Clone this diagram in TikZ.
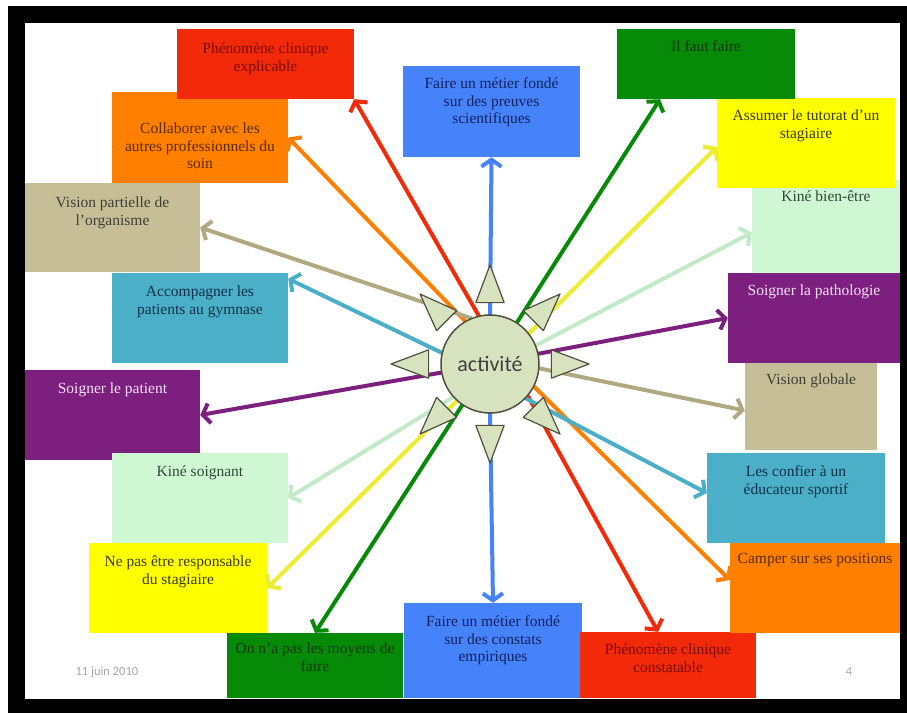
\documentclass[tikz,border=0pt]{standalone}
\usepackage{fontspec}
\setmainfont{Liberation Serif}
\newfontfamily\calibri{Carlito}
\usetikzlibrary{arrows.meta, positioning}

\definecolor{boxred}{HTML}{F22A0A}
\definecolor{boxorange}{HTML}{FF8000}
\definecolor{boxtan}{HTML}{C5BE97}
\definecolor{boxteal}{HTML}{4BAFC8}
\definecolor{boxpurple}{HTML}{7C1F7E}
\definecolor{boxmint}{HTML}{D0F7D4}
\definecolor{boxyellow}{HTML}{FFFF00}
\definecolor{boxgreen}{HTML}{078A07}
\definecolor{boxblue}{HTML}{4682FA}
\definecolor{txtred}{HTML}{7A0C00}
\definecolor{txtorange}{HTML}{5A2A00}
\definecolor{txttan}{HTML}{3F3F35}
\definecolor{txtteal}{HTML}{10304A}
\definecolor{txtpurple}{HTML}{F6E2F6}
\definecolor{txtmint}{HTML}{304838}
\definecolor{txtyellow}{HTML}{3A3A10}
\definecolor{txtgreen}{HTML}{0A3A0A}
\definecolor{txtblue}{HTML}{12225C}
\definecolor{arrmint}{HTML}{C2EAC8}
\definecolor{arryellow}{HTML}{ECEC30}
\definecolor{arrtan}{HTML}{B0A880}
\definecolor{actfill}{HTML}{D7E3BF}
\definecolor{actline}{HTML}{4F4F3F}

\begin{document}
\begin{tikzpicture}[
    x=1pt, y=-1pt,
    >={Straight Barb[length=7pt,width=20pt]},
    box/.style={rectangle, inner sep=0pt},
    box text/.style={align=center, inner sep=0pt, font=\fontsize{15.5}{17.5}\selectfont},
    link/.style={line width=4pt, ->},
    spike/.style={fill=actfill, draw=actline, line width=1.2pt, line join=round},
    footer/.style={font=\calibri\fontsize{12.5}{14}\selectfont, text=black!35}
]

% Frame of the slide
\fill[white] (0,0) rectangle (907,713);
\fill[black] (8,6) rectangle (907,713);
\fill[white] (25,23) rectangle (900,699);
\useasboundingbox (0,0) rectangle (907,713);

% Footer
\node[footer, anchor=west] (date) at (72,672) {11 juin 2010};
\node[footer] (page) at (849,671) {4};

% Boxes on the left
\node[box, fill=boxorange, minimum width=176pt, minimum height=91pt] (collab) at (200,137.5) {};
\node[box, fill=boxred, minimum width=177pt, minimum height=70pt] (explic) at (265.5,64) {};
\node[box, fill=boxtan, minimum width=175pt, minimum height=89pt] (partiel) at (112.5,227.5) {};
\node[box, fill=boxteal, minimum width=176pt, minimum height=90pt] (gymnase) at (200,318) {};
\node[box, fill=boxpurple, minimum width=175pt, minimum height=90pt] (patient) at (112.5,415) {};
\node[box, fill=boxmint, minimum width=176pt, minimum height=90pt] (soignant) at (200,498) {};
\node[box, fill=boxgreen, minimum width=176pt, minimum height=65pt] (moyens) at (315,665.5) {};
\node[box, fill=boxyellow, minimum width=178pt, minimum height=90pt] (nonresp) at (178,588) {};

% Boxes at the top and bottom
\node[box, fill=boxblue, minimum width=177pt, minimum height=91pt] (preuves) at (491.5,111.5) {};
\node[box, fill=boxblue, minimum width=178pt, minimum height=95pt] (constats) at (493,650.5) {};
\node[box, fill=boxred, minimum width=176pt, minimum height=66pt] (constat) at (668,665) {};

% Boxes on the right
\node[box, fill=boxmint, minimum width=148pt, minimum height=93pt] (bienetre) at (826,226.5) {};
\node[box, fill=boxyellow, minimum width=178pt, minimum height=90pt] (tutorat) at (806,143) {};
\node[box, fill=boxgreen, minimum width=178pt, minimum height=70pt] (fautfaire) at (706,64) {};
\node[box, fill=boxpurple, minimum width=172pt, minimum height=90pt] (patho) at (814,318) {};
\node[box, fill=boxtan, minimum width=132pt, minimum height=87pt] (globale) at (811,406.5) {};
\node[box, fill=boxteal, minimum width=178pt, minimum height=90pt] (educ) at (796,498) {};
\node[box, fill=boxorange, minimum width=170pt, minimum height=90pt] (camper) at (815,588) {};

% Texts of the boxes
\node[box text, text=txtred, below=14pt of explic.north] (explictxt) {Phénomène clinique\\explicable};
\node[box text, text=txtorange, below=31pt of collab.north] (collabtxt) {Collaborer avec les\\autres professionnels du\\soin};
\node[box text, text=txttan, below=14pt of partiel.north] (partieltxt) {Vision partielle de\\l'organisme};
\node[box text, text=txtteal, below=13pt of gymnase.north] (gymnasetxt) {Accompagner les\\patients au gymnase};
\node[box text, text=txtpurple, below=13pt of patient.north] (patienttxt) {Soigner le patient};
\node[box text, text=txtmint, below=13pt of soignant.north] (soignanttxt) {Kiné soignant};
\node[box text, text=txtyellow, below=13pt of nonresp.north] (nonresptxt) {Ne pas être responsable\\du stagiaire};
\node[box text, text=txtgreen, below=10pt of moyens.north] (moyenstxt) {On n'a pas les moyens de\\faire};
\node[box text, text=txtblue, below=13pt of constats.north] (constatstxt) {Faire un métier fondé\\sur des constats\\empiriques};
\node[box text, text=txtred, below=12pt of constat.north] (constattxt) {Phénomène clinique\\constatable};
\node[box text, text=txtorange, below=10pt of camper.north] (campertxt) {Camper sur ses positions};
\node[box text, text=txtteal, below=13pt of educ.north] (eductxt) {Les confier à un\\éducateur sportif};
\node[box text, text=txttan, below=11pt of globale.north] (globaletxt) {Vision globale};
\node[box text, text=txtpurple, below=12pt of patho.north] (pathotxt) {Soigner la pathologie};
\node[box text, text=txtmint, below=11pt of bienetre.north] (bienetretxt) {Kiné bien-être};
\node[box text, text=txtyellow, below=12pt of tutorat.north] (tutorattxt) {Assumer le tutorat d'un\\stagiaire};
\node[box text, text=txtgreen, below=12pt of fautfaire.north] (fautfairetxt) {Il faut faire};
\node[box text, text=txtblue, below=12pt of preuves.north] (preuvestxt) {Faire un métier fondé\\sur des preuves\\scientifiques};

% Centre
\node[circle, minimum size=98pt, inner sep=0pt] (act) at (490,364) {};

% Arrows from the centre
\draw[link, boxred] (act.103) -- (explic.south east);
\draw[link, boxorange] (act.120) -- (collab.east);
\draw[link, arrtan] (act.112) -- (partiel.east);
\draw[link, boxteal] (act.167) -- ([yshift=-6pt]gymnase.north east);
\draw[link, boxpurple] (act.190) -- (patient.east);
\draw[link, arrmint] (act.222) -- (soignant.east);
\draw[link, arryellow] (act.228) -- (nonresp.east);
\draw[link, boxgreen] (act.236) -- (moyens.north);
\draw[link, boxblue] (act.south) -- (constats.north);
\draw[link, boxred] (act.320) -- ([xshift=-10pt]constat.north);
\draw[link, boxorange] (act.333) -- ([yshift=8pt]camper.west);
\draw[link, boxteal] (act.316) -- ([yshift=5pt]educ.west);
\draw[link, arrtan] (act.355) -- ([yshift=-4pt]globale.west);
\draw[link, boxpurple] (act.12) -- (patho.west);
\draw[link, arrmint] (act.22) -- ([yshift=-6pt]bienetre.west);
\draw[link, arryellow] (act.38) -- ([yshift=-4pt]tutorat.west);
\draw[link, boxgreen] (act.57) -- ([xshift=-46pt]fautfaire.south);
\draw[link, boxblue] (act.north) -- (preuves.south);

% Spikes and the circle
\foreach \a in {0,45,...,315}
    \draw[spike, shift={(act.center)}] (\a:99) -- (\a+13:63) -- (\a-13:63) -- cycle;
\node[circle, minimum size=98pt, inner sep=0pt, fill=actfill, draw=actline, line width=1.5pt,
      font=\calibri\fontsize{22}{24}\selectfont, text=black!75] (acttxt) at (act) {activité};

\end{tikzpicture}
\end{document}
